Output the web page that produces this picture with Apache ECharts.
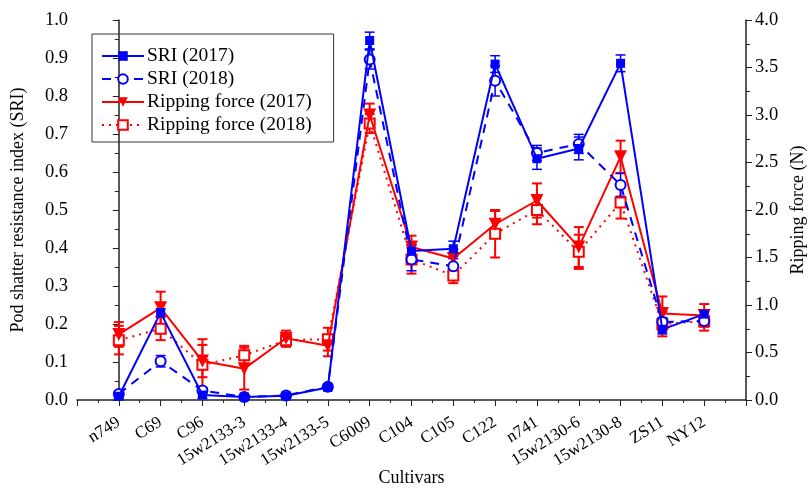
<!DOCTYPE html>
<html>
<head>
<meta charset="utf-8">
<script src="https://cdn.jsdelivr.net/npm/echarts@6/dist/echarts.min.js"></script>
<style>html,body{margin:0;padding:0;background:#fff;}#c{width:810px;height:488px;}</style>
</head>
<body>
<div id="c"></div>
<script>
var categories = ['n749','C69','C96','15w2133-3','15w2133-4','15w2133-5','C6009','C104','C105','C122','n741','15w2130-6','15w2130-8','ZS11','NY12'];

var sri2017     = [0.010, 0.230, 0.013, 0.008, 0.011, 0.033, 0.946, 0.392, 0.398, 0.884, 0.635, 0.662, 0.886, 0.186, 0.226];
var sri2017Err  = [0.006, 0.010, 0.008, 0.005, 0.006, 0.006, 0.022, 0.015, 0.020, 0.022, 0.028, 0.030, 0.022, 0.012, 0.010];
var sri2018     = [0.016, 0.102, 0.025, 0.008, 0.012, 0.035, 0.896, 0.370, 0.352, 0.840, 0.650, 0.674, 0.566, 0.205, 0.208];
var sri2018Err  = [0.008, 0.015, 0.008, 0.005, 0.006, 0.006, 0.025, 0.030, 0.020, 0.040, 0.020, 0.025, 0.030, 0.012, 0.012];
var rf2017      = [0.69, 0.97, 0.41, 0.33, 0.65, 0.57, 3.00, 1.61, 1.49, 1.85, 2.10, 1.61, 2.56, 0.91, 0.89];
var rf2017Err   = [0.13, 0.17, 0.17, 0.22, 0.08, 0.11, 0.12, 0.12, 0.10, 0.14, 0.18, 0.21, 0.17, 0.18, 0.12];
var rf2018      = [0.63, 0.75, 0.37, 0.47, 0.63, 0.64, 2.91, 1.48, 1.31, 1.75, 2.00, 1.56, 2.08, 0.80, 0.83];
var rf2018Err   = [0.15, 0.12, 0.27, 0.10, 0.07, 0.12, 0.10, 0.15, 0.08, 0.25, 0.15, 0.18, 0.17, 0.13, 0.10];

var sriTicks = [0, 1, 0.1];
var rfTicks = [0, 4, 0.5];

var BLUE = '#0000ff', RED = '#ff0000';
var FONT = '"Liberation Serif", "Times New Roman", serif';

function pts(vals){ return vals.map(function(v,i){ return [i, v]; }); }
function errData(vals, errs){ return vals.map(function(v,i){ return [i, v - errs[i], v + errs[i]]; }); }
function errSeries(vals, errs, color, yIdx, w){
  return {
    type: 'custom', yAxisIndex: yIdx, z: 1, silent: true,
    data: errData(vals, errs),
    encode: {x: 0, y: [1, 2]},
    renderItem: function(params, api){
      var x = api.value(0);
      var lo = api.coord([x, api.value(1)]);
      var hi = api.coord([x, api.value(2)]);
      var cw = 5;
      var st = {stroke: color, lineWidth: w, fill: null};
      return {type: 'group', children: [
        {type: 'line', shape: {x1: lo[0], y1: lo[1], x2: hi[0], y2: hi[1]}, style: st},
        {type: 'line', shape: {x1: lo[0]-cw, y1: lo[1], x2: lo[0]+cw, y2: lo[1]}, style: st},
        {type: 'line', shape: {x1: hi[0]-cw, y1: hi[1], x2: hi[0]+cw, y2: hi[1]}, style: st}
      ]};
    }
  };
}

var chart = echarts.init(document.getElementById('c'), null, {renderer: 'canvas'});
var axisLineStyle = {color: '#222', width: 1.5};
chart.setOption({
  animation: false,
  backgroundColor: '#fff',
  textStyle: {fontFamily: FONT},
  grid: {left: 77, right: 64, top: 20, bottom: 88, containLabel: false, outerBoundsMode: 'none'},
  legend: {
    left: 92, top: 34, orient: 'vertical',
    data: ['SRI (2017)', 'SRI (2018)', 'Ripping force (2017)', 'Ripping force (2018)'],
    itemWidth: 42, itemHeight: 12, itemGap: 3,
    borderColor: '#333', borderWidth: 1, padding: [12, 22, 7, 9],
    textStyle: {fontFamily: FONT, fontSize: 19.5, color: '#000', padding: [0,0,0,-2]}
  },
  xAxis: {
    type: 'value', min: -1, max: 15, interval: 1,
    name: 'Cultivars', nameLocation: 'middle', nameGap: 69, nameMoveOverlap: false,
    nameTextStyle: {fontFamily: FONT, fontSize: 18, color: '#000'},
    axisLine: {show: true, lineStyle: axisLineStyle},
    axisTick: {show: true, inside: false, length: 6, lineStyle: {color: '#222', width: 1}},
    minorTick: {show: true, splitNumber: 2, length: 3, lineStyle: {color: '#222', width: 1}},
    splitLine: {show: false},
    axisLabel: {
      rotate: 32, margin: 21, fontFamily: FONT, fontSize: 17, color: '#000',
      showMinLabel: true, showMaxLabel: true,
      formatter: function(v){ return categories[v] !== undefined ? categories[v] : ''; }
    }
  },
  yAxis: [{
    type: 'value', min: sriTicks[0], max: sriTicks[1], interval: sriTicks[2], position: 'left',
    name: 'Pod shatter resistance index (SRI)', nameLocation: 'middle', nameRotate: 90, nameGap: 50,
    nameTextStyle: {fontFamily: FONT, fontSize: 18, color: '#000'},
    axisLine: {show: true, lineStyle: axisLineStyle},
    axisTick: {show: true, inside: false, length: 6, lineStyle: {color: '#222', width: 1}},
    minorTick: {show: true, splitNumber: 2, length: 4, lineStyle: {color: '#222', width: 1}},
    splitLine: {show: false},
    axisLabel: {fontFamily: FONT, fontSize: 18.5, color: '#000', margin: 9,
      formatter: function(v){ return v.toFixed(1); }}
  }, {
    type: 'value', min: rfTicks[0], max: rfTicks[1], interval: rfTicks[2], position: 'right',
    name: 'Ripping force (N)', nameLocation: 'middle', nameRotate: 90, nameGap: 40,
    nameTextStyle: {fontFamily: FONT, fontSize: 18, color: '#000'},
    axisLine: {show: true, lineStyle: axisLineStyle},
    axisTick: {show: true, inside: false, length: 6, lineStyle: {color: '#222', width: 1}},
    minorTick: {show: true, splitNumber: 2, length: 4, lineStyle: {color: '#222', width: 1}},
    splitLine: {show: false},
    axisLabel: {fontFamily: FONT, fontSize: 18.5, color: '#000', margin: 9,
      formatter: function(v){ return v.toFixed(1); }}
  }],
  series: [
    errSeries(rf2018, rf2018Err, RED, 1, 2),
    errSeries(rf2017, rf2017Err, RED, 1, 2),
    errSeries(sri2018, sri2018Err, BLUE, 0, 1.5),
    errSeries(sri2017, sri2017Err, BLUE, 0, 1.5),
    {name: 'Ripping force (2018)', type: 'line', yAxisIndex: 1, data: pts(rf2018), z: 3,
     symbol: 'emptyRect', symbolSize: 10,
     lineStyle: {color: RED, width: 2, type: [2, 5]}, itemStyle: {color: RED, borderWidth: 1.2}},
    {name: 'Ripping force (2017)', type: 'line', yAxisIndex: 1, data: pts(rf2017), z: 4,
     symbol: 'triangle', symbolRotate: 180, symbolSize: 13,
     lineStyle: {color: RED, width: 2, type: 'solid'}, itemStyle: {color: RED}},
    {name: 'SRI (2018)', type: 'line', yAxisIndex: 0, data: pts(sri2018), z: 5,
     symbol: 'emptyCircle', symbolSize: 10,
     lineStyle: {color: BLUE, width: 2, type: [9, 7]}, itemStyle: {color: BLUE, borderWidth: 1.2}},
    {name: 'SRI (2017)', type: 'line', yAxisIndex: 0, data: pts(sri2017), z: 6,
     symbol: 'rect', symbolSize: 9,
     lineStyle: {color: BLUE, width: 2, type: 'solid'}, itemStyle: {color: BLUE}}
  ]
});
</script>
</body>
</html>
